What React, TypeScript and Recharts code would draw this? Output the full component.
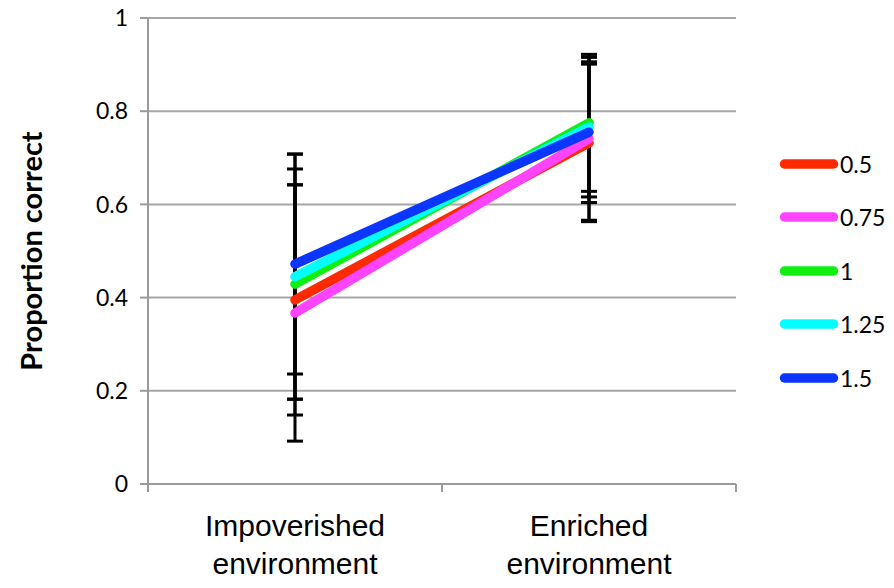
import { LineChart, Line, XAxis, YAxis, CartesianGrid, ErrorBar } from 'recharts';

// categories (two-line tick labels)
const categories = ['Impoverished environment', 'Enriched environment'];

// series names and colours
const seriesNames = ['0.5', '0.75', '1', '1.25', '1.5'];
const seriesColors = ['#FF2A00', '#FF44FF', '#11EE11', '#00FFFF', '#0A36FF'];

// means per series: [impoverished, enriched]
const s05 = [0.395, 0.732];
const s075 = [0.367, 0.741];
const s1 = [0.429, 0.775];
const s125 = [0.445, 0.766];
const s15 = [0.472, 0.755];

// error bar half-lengths per series
const e05 = [0.247, 0.169];
const e075 = [0.275, 0.175];
const e1 = [0.247, 0.147];
const e125 = [0.263, 0.15];
const e15 = [0.236, 0.151];

const yTicks = [0, 0.2, 0.4, 0.6, 0.8, 1];
const xTicks = [0, 0.5, 1, 1.5, 2];

const means = [s05, s075, s1, s125, s15];
const errs = [e05, e075, e1, e125, e15];

const data = categories.map((name, i) => {
  const row: any = { x: i + 0.5, name };
  means.forEach((m, k) => {
    row['s' + k] = m[i];
    row['e' + k] = errs[k][i];
  });
  return row;
});

const XTick = (props: any) => {
  const { x, y, payload } = props;
  const v = payload.value;
  if (Number.isInteger(v)) {
    return <line x1={x} x2={x} y1={y} y2={y + 8} stroke="#9A9A9A" strokeWidth={2} />;
  }
  const words = categories[Math.floor(v)].split(' ');
  return (
    <text x={x} y={y + 52} textAnchor="middle" fontSize={30} fontFamily="'Liberation Sans', Arial, sans-serif" fill="#000">
      <tspan x={x} dy={0}>{words[0]}</tspan>
      <tspan x={x} dy={38}>{words[1]}</tspan>
    </text>
  );
};

const LegendBox = () => (
  <div style={{ position: 'absolute', left: 774, top: 137, fontFamily: 'Lato, sans-serif', fontSize: 23 }}>
    {seriesNames.map((n, i) => (
      <div key={n} style={{ display: 'flex', alignItems: 'center', height: 53.5 }}>
        <svg width={66} height={12} style={{ overflow: 'visible' }}>
          <line x1={10.5} x2={59.5} y1={6} y2={6} stroke={seriesColors[i]} strokeWidth={9.5} strokeLinecap="round" />
        </svg>
        <span>{n}</span>
      </div>
    ))}
  </div>
);

export default function App() {
  return (
    <div style={{ position: 'absolute', left: 0, top: 0, width: 894, height: 588, background: '#fff' }}>
      <LineChart width={894} height={588} data={data} margin={{ top: 18, right: 158, bottom: 0, left: 0 }}>
        <CartesianGrid vertical={false} stroke="#A6A6A6" strokeWidth={2} />
        <XAxis
          dataKey="x"
          type="number"
          domain={[0, 2]}
          ticks={xTicks}
          interval={0}
          height={104}
          tickLine={false}
          tickSize={0}
          tickMargin={0}
          tick={<XTick />}
          axisLine={{ stroke: '#9A9A9A', strokeWidth: 2 }}
        />
        <YAxis
          type="number"
          domain={[0, 1]}
          ticks={yTicks}
          width={148}
          tickSize={8}
          tickMargin={12}
          tickFormatter={(v: number) => String(v)}
          tick={{ fill: '#000', fontSize: 23, fontFamily: 'Lato, sans-serif' }}
          tickLine={{ stroke: '#9A9A9A', strokeWidth: 2 }}
          axisLine={{ stroke: '#9A9A9A', strokeWidth: 2 }}
          label={({ viewBox }: any) => (
            <text
              x={30}
              y={viewBox.y + viewBox.height / 2}
              transform={`rotate(-90 30 ${viewBox.y + viewBox.height / 2})`}
              textAnchor="middle"
              dominantBaseline="central"
              fontSize={29}
              fontWeight="bold"
              fontFamily="Lato, sans-serif"
              fill="#000"
            >
              Proportion correct
            </text>
          )}
        />
        {/* error bars first, so the coloured lines sit on top of them */}
        {seriesNames.map((n, k) => (
          <Line
            key={'err' + n}
            dataKey={'s' + k}
            stroke="none"
            dot={false}
            activeDot={false}
            legendType="none"
            isAnimationActive={false}
          >
            <ErrorBar dataKey={'e' + k} direction="y" width={8} stroke="#000" strokeWidth={3} />
          </Line>
        ))}
        {seriesNames.map((n, k) => (
          <Line
            key={n}
            dataKey={'s' + k}
            name={n}
            stroke={seriesColors[k]}
            strokeWidth={9.5}
            strokeLinecap="round"
            dot={false}
            activeDot={false}
            isAnimationActive={false}
          />
        ))}
      </LineChart>
      <LegendBox />
    </div>
  );
}
